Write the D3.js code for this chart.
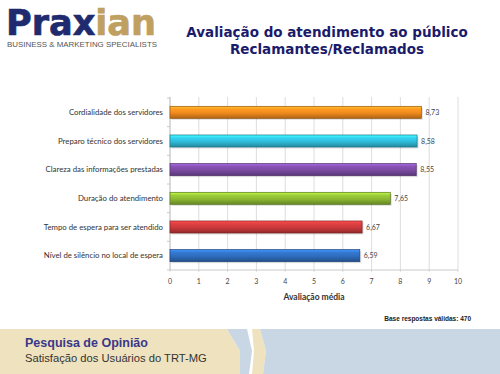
<!DOCTYPE html>
<html><head><meta charset="utf-8">
<script src="https://cdn.jsdelivr.net/npm/d3@7"></script>
<style>html,body{margin:0;padding:0;background:#fff;}svg{display:block;}</style>
</head><body>
<script>
const categories = ["Cordialidade dos servidores","Preparo técnico dos servidores","Clareza das informações prestadas","Duração do atendimento","Tempo de espera para ser atendido","Nível de silêncio no local de espera"];
const values = [8.73, 8.58, 8.55, 7.65, 6.67, 6.59];
const valueLabels = ["8,73","8,58","8,55","7,65","6,67","6,59"];
const barColors = ["#f08a1e","#2fbcd9","#7a4aa3","#8cb933","#c9393b","#2f6cbd"];
const xTicks = [0,1,2,3,4,5,6,7,8,9,10];
const titleLines = ["Avaliação do atendimento ao público","Reclamantes/Reclamados"];
const axisTitle = "Avaliação média";
const baseNote = "Base respostas válidas: 470";
const footerTitle = "Pesquisa de Opinião";
const footerSub = "Satisfação dos Usuários do TRT-MG";

const W=500,H=374;
const svg=d3.select("body").append("svg").attr("width",W).attr("height",H);
const defs=svg.append("defs");

// Logo
const logo=svg.append("text").attr("x",6).attr("y",35)
  .attr("font-family","DejaVu Sans, sans-serif").attr("font-weight","bold").attr("font-size",36)
  .attr("textLength",150).attr("lengthAdjust","spacingAndGlyphs").attr("stroke-width",0.7);
logo.append("tspan").attr("fill","#1f2b6e").attr("stroke","#1f2b6e").text("Prax");
logo.append("tspan").attr("fill","#bfa061").attr("stroke","#bfa061").text("ian");
svg.append("text").attr("x",7).attr("y",46.5).attr("font-family","Liberation Sans, Arial, sans-serif")
  .attr("font-size",7.5).attr("fill","#555").attr("textLength",150).attr("lengthAdjust","spacingAndGlyphs")
  .text("BUSINESS & MARKETING SPECIALISTS");

// Title
svg.selectAll("text.title").data(titleLines).join("text").attr("class","title")
  .attr("x",327).attr("y",(d,i)=>37+i*17).attr("text-anchor","middle")
  .attr("font-family","DejaVu Sans, Verdana, sans-serif").attr("font-weight","bold").attr("font-size",13.5)
  .attr("fill","#1b1b6b").text(d=>d);

// Chart
const x=d3.scaleLinear().domain([0,10]).range([170,458]);
const y=d3.scaleBand().domain(categories).range([98,270]).paddingInner(0.58).paddingOuter(0.29);

const g=svg.append("g");
g.selectAll("line.grid").data(xTicks).join("line").attr("class","grid")
  .attr("x1",d=>x(d)).attr("x2",d=>x(d)).attr("y1",97).attr("y2",272)
  .attr("stroke","#d4d4d4").attr("stroke-width",0.8);
g.append("line").attr("x1",170).attr("x2",170).attr("y1",97).attr("y2",270).attr("stroke","#bdbdbd").attr("stroke-width",0.8);
g.selectAll("line.ltick").data(d3.range(7)).join("line").attr("class","ltick")
  .attr("x1",167).attr("x2",170).attr("y1",i=>98+i*(172/6)).attr("y2",i=>98+i*(172/6))
  .attr("stroke","#bdbdbd").attr("stroke-width",0.8);
g.append("line").attr("x1",170).attr("x2",458).attr("y1",270).attr("y2",270).attr("stroke","#bdbdbd").attr("stroke-width",0.8);

function shade(c,k){return d3.color(c).darker(k).formatHex();}
function tint(c,k){return d3.color(c).brighter(k).formatHex();}
barColors.forEach((c,i)=>{
  const lg=defs.append("linearGradient").attr("id","bg"+i).attr("x1",0).attr("x2",0).attr("y1",0).attr("y2",1);
  lg.append("stop").attr("offset","0%").attr("stop-color",tint(c,0.9));
  lg.append("stop").attr("offset","25%").attr("stop-color",tint(c,0.3));
  lg.append("stop").attr("offset","55%").attr("stop-color",c);
  lg.append("stop").attr("offset","100%").attr("stop-color",shade(c,0.9));
});

const bars=g.selectAll("g.bar").data(categories).join("g").attr("class","bar");
bars.append("rect").attr("x",x(0)+1.5).attr("y",d=>y(d)+1.5).attr("width",(d,i)=>x(values[i])-x(0)).attr("height",y.bandwidth())
  .attr("fill","#000").attr("opacity",0.12);
bars.append("rect").attr("x",x(0)).attr("y",d=>y(d)).attr("width",(d,i)=>x(values[i])-x(0)).attr("height",y.bandwidth())
  .attr("fill",(d,i)=>`url(#bg${i})`).attr("stroke",(d,i)=>shade(barColors[i],1.3)).attr("stroke-width",0.7);

g.selectAll("text.val").data(categories).join("text").attr("class","val")
  .attr("x",(d,i)=>x(values[i])+4).attr("y",d=>y(d)+y.bandwidth()/2+2.5)
  .attr("font-family","Lato, sans-serif").attr("font-size",7).attr("fill","#444").text((d,i)=>valueLabels[i]);

g.selectAll("text.cat").data(categories).join("text").attr("class","cat")
  .attr("x",163).attr("y",d=>y(d)+y.bandwidth()/2+2.8).attr("text-anchor","end")
  .attr("font-family","Lato, sans-serif").attr("font-size",7.8).attr("fill","#333").text(d=>d);

g.selectAll("text.xt").data(xTicks).join("text").attr("class","xt")
  .attr("x",d=>x(d)).attr("y",284).attr("text-anchor","middle")
  .attr("font-family","Lato, sans-serif").attr("font-size",7).attr("fill","#444").text(d=>d);

svg.append("text").attr("x",314).attr("y",300).attr("text-anchor","middle")
  .attr("font-family","Lato, sans-serif").attr("font-weight","bold").attr("font-size",8.5).attr("fill","#333").text(axisTitle);

svg.append("text").attr("x",471).attr("y",321).attr("text-anchor","end")
  .attr("font-family","Liberation Sans, Arial, sans-serif").attr("font-weight","bold").attr("font-size",6.5).attr("fill","#222").text(baseNote);

// footer banner
const fb=svg.append("g");
const beige="#efe3bf", blue="#c9d6e3";
fb.append("polygon").attr("points","0,329 227,329 240,351 240,374 0,374").attr("fill",beige);
fb.append("polygon").attr("points","227,329 247,329 252,351 249,374 240,374 240,351").attr("fill",blue);
fb.append("polygon").attr("points","252,329 260,329 266,351 263,374 252,374 254,351").attr("fill",beige);
fb.append("polygon").attr("points","260,329 500,329 500,374 263,374 266,351").attr("fill",blue);
fb.append("text").attr("x",25).attr("y",347).attr("font-family","Liberation Sans, Arial, sans-serif")
  .attr("font-weight","bold").attr("font-size",12.5).attr("fill","#3a3889").text(footerTitle);
fb.append("text").attr("x",25).attr("y",362).attr("font-family","Liberation Sans, Arial, sans-serif")
  .attr("font-size",11.2).attr("fill","#333").text(footerSub);
</script>
</body></html>
